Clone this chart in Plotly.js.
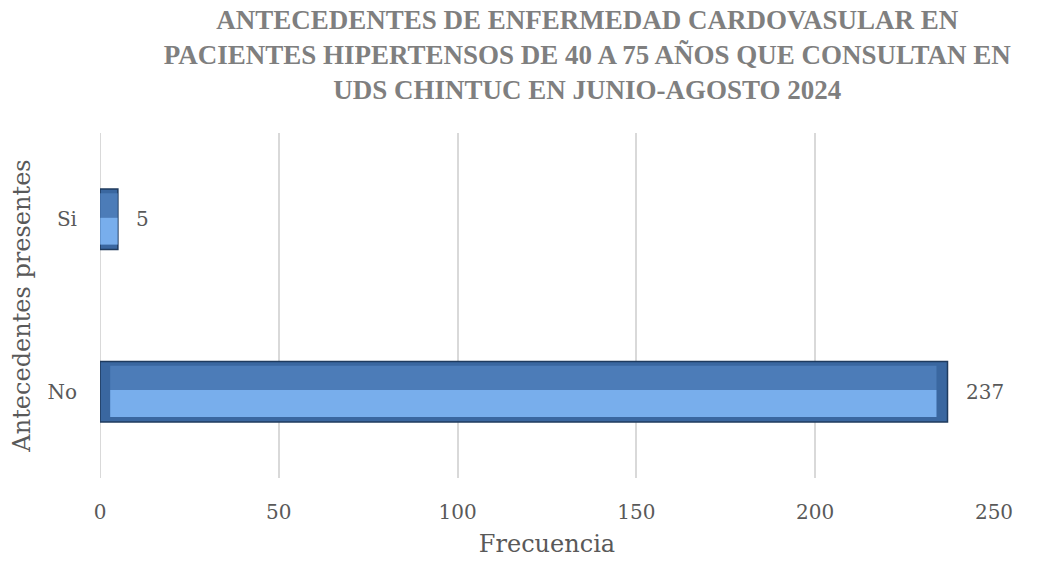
<!DOCTYPE html>
<html><head><meta charset="utf-8">
<script src="https://cdn.plot.ly/plotly-3.0.1.min.js"></script>
<style>html,body{margin:0;padding:0;background:#fff}</style>
</head><body><div id="chart" style="width:1044px;height:563px"></div>
<script>
const categories = ['No', 'Si'];
const frecuencia = [237, 5];
const labels = ['237', '5'];
const xTicks = [0, 50, 100, 150, 200, 250];

const W = 0.35;
const traces = [
  { // base / outline (dark)
    type: 'bar', orientation: 'h', y: categories, x: frecuencia,
    width: W, offset: -W/2,
    marker: {color: '#3a67a0', line: {color: '#1f3b5e', width: 1.5}},
    hoverinfo: 'skip', showlegend: false
  },
  { // lower lighter band
    type: 'bar', orientation: 'h', y: categories,
    x: frecuencia.map(v => v * 0.975), base: frecuencia.map(v => v * 0.012),
    width: W * 0.45, offset: -W/2 + W*0.08,
    marker: {color: '#78aeec', line: {width: 0}},
    hoverinfo: 'skip', showlegend: false
  },
  { // upper band
    type: 'bar', orientation: 'h', y: categories,
    x: frecuencia.map(v => v * 0.975), base: frecuencia.map(v => v * 0.012),
    width: W * 0.40, offset: -W/2 + W*0.53,
    marker: {color: '#4c7cb8', line: {width: 0}},
    hoverinfo: 'skip', showlegend: false
  }
];

const annotations = categories.map((c, i) => ({
  x: frecuencia[i], y: c, xref: 'x', yref: 'y',
  text: labels[i], showarrow: false, xanchor: 'left', yanchor: 'middle', xshift: 16,
  font: {family: 'DejaVu Serif', size: 20, color: '#595959'}
}));

const titleLines = [
  'ANTECEDENTES DE ENFERMEDAD CARDOVASULAR EN',
  'PACIENTES HIPERTENSOS DE 40 A 75 AÑOS QUE CONSULTAN EN',
  'UDS CHINTUC EN JUNIO-AGOSTO 2024'
];

const layout = {
  width: 1044, height: 563,
  paper_bgcolor: '#ffffff', plot_bgcolor: '#ffffff',
  margin: {l: 100, r: 50, t: 133, b: 85},
  barmode: 'overlay',
  title: {
    text: titleLines.map(t => '<span style="font-family:Liberation Serif;font-weight:bold">' + t + '</span>').join('<br>'),
    font: {family: 'Liberation Serif', size: 27, color: '#7f7f7f', weight: 700},
    x: 0.545, xref: 'paper', xanchor: 'center', yref: 'container', y: 0.948, yanchor: 'top'
  },
  xaxis: {
    range: [0, 250], tickvals: xTicks, ticktext: xTicks.map(String),
    showgrid: true, gridcolor: '#d9d9d9', gridwidth: 2,
    zeroline: false, showline: false, ticks: '',
    ticklabelstandoff: 20,
    tickfont: {family: 'DejaVu Serif', size: 20, color: '#595959'},
    title: {text: 'Frecuencia', font: {family: 'DejaVu Serif', size: 24, color: '#595959'}, standoff: 12}
  },
  yaxis: {
    type: 'category', categoryorder: 'array', categoryarray: categories,
    range: [-0.5, 1.5],
    showgrid: false, zeroline: false, showline: false, ticks: '',
    ticklabelstandoff: 22,
    tickfont: {family: 'DejaVu Serif', size: 20, color: '#595959'},
    title: {text: 'Antecedentes presentes', font: {family: 'DejaVu Serif', size: 24, color: '#595959'}, standoff: 10}
  },
  annotations: annotations,
  shapes: [{type: 'line', xref: 'x', yref: 'paper', x0: 0, x1: 0, y0: 0, y1: 1, line: {color: '#d9d9d9', width: 2}, layer: 'below'}]
};

Plotly.newPlot('chart', traces, layout, {displayModeBar: false, staticPlot: true});
</script>
</body></html>
